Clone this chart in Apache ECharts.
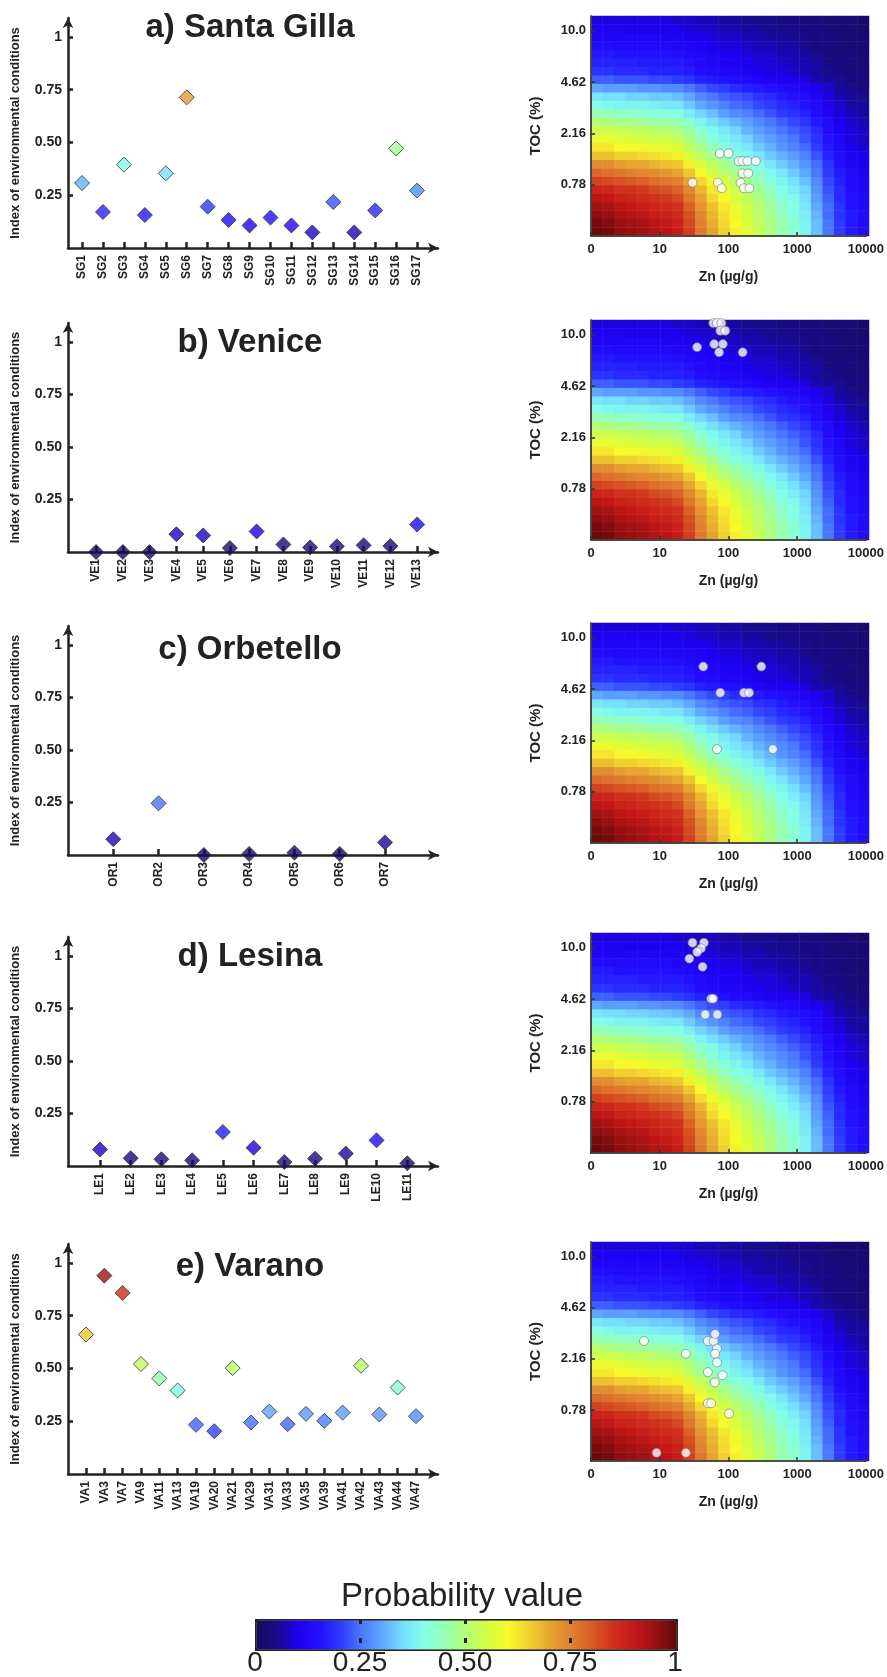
<!DOCTYPE html>
<html><head><meta charset="utf-8">
<script src="https://cdn.jsdelivr.net/npm/echarts@6/dist/echarts.min.js"></script>
<style>html,body{margin:0;padding:0;background:#fff}#c{width:887px;height:1677px}</style>
</head><body><div id="c"></div>
<script>
// ---------- data ----------
const SG_LABELS = ['SG1','SG2','SG3','SG4','SG5','SG6','SG7','SG8','SG9','SG10','SG11','SG12','SG13','SG14','SG15','SG16','SG17'];
const SG_VALUES = [0.308,0.171,0.395,0.156,0.354,0.714,0.196,0.133,0.107,0.144,0.107,0.074,0.218,0.074,0.178,0.472,0.272];
const VE_LABELS = ['VE1','VE2','VE3','VE4','VE5','VE6','VE7','VE8','VE9','VE10','VE11','VE12','VE13'];
const VE_VALUES = [0.0,0.0,0.0,0.085,0.079,0.019,0.098,0.036,0.022,0.027,0.032,0.028,0.131];
const OR_LABELS = ['OR1','OR2','OR3','OR4','OR5','OR6','OR7'];
const OR_VALUES = [0.075,0.246,0.0,0.005,0.011,0.005,0.060];
const LE_LABELS = ['LE1','LE2','LE3','LE4','LE5','LE6','LE7','LE8','LE9','LE10','LE11'];
const LE_VALUES = [0.078,0.037,0.032,0.027,0.162,0.087,0.019,0.035,0.059,0.122,0.013];
const VA_LABELS = ['VA1','VA3','VA7','VA9','VA11','VA13','VA19','VA20','VA21','VA29','VA31','VA33','VA35','VA39','VA41','VA42','VA43','VA44','VA47'];
const VA_VALUES = [0.661,0.940,0.858,0.521,0.453,0.396,0.233,0.203,0.502,0.244,0.296,0.236,0.285,0.252,0.291,0.513,0.282,0.410,0.274];

// sample points: [Zn (ug/g), TOC axis position]
const SG_DOTS = [[75,1.61],[100,1.61],[141,1.46],[160,1.46],[189,1.46],[250,1.46],[160,1.22],[194,1.22],[30,1.04],[70,1.04],[80,0.93],[150,1.04],[168,0.93],[202,0.93]];
const VE_DOTS = [[60,4.23],[68,4.23],[79,4.23],[76,4.08],[90,4.08],[35,3.76],[62,3.82],[83,3.82],[73,3.66],[161,3.66]];
const OR_DOTS = [[43,3.44],[301,3.44],[76,2.93],[168,2.93],[200,2.93],[68,1.83],[443,1.83]];
const LE_DOTS = [[30,4.10],[44,4.10],[40,3.99],[35,3.92],[27,3.79],[42,3.63],[56,3.01],[60,3.01],[46,2.70],[69,2.70]];
const VA_DOTS = [[5.9,2.35],[24,2.10],[50,2.35],[61,2.35],[64,2.49],[68,2.20],[64,2.10],[68,1.93],[50,1.74],[82,1.68],[63,1.54],[50,1.13],[56,1.13],[102,0.93],[9,0.16],[24,0.16]];

const TITLES = ['a) Santa Gilla','b) Venice','c) Orbetello','d) Lesina','e) Varano'];
const Y_TICKS = [0.25,0.5,0.75,1];
const ZN_TICKS = [1,10,100,1000,10000];
const TOC_TICK_LABELS = ['0.78','2.16','4.62','10.0'];
const CBAR_TICKS = [0,0.25,0.5,0.75,1];

// probability surface read from the contour map:
// 26 rows (bottom = low TOC -> top), 24 columns (low Zn -> high Zn)
const HEAT = [
 [0.99,0.98,0.96,0.95,0.94,0.92,0.91,0.89,0.83,0.76,0.70,0.65,0.61,0.57,0.53,0.49,0.45,0.42,0.38,0.32,0.25,0.20,0.16,0.14],
 [0.98,0.97,0.95,0.94,0.93,0.91,0.90,0.88,0.82,0.75,0.69,0.64,0.60,0.56,0.52,0.49,0.45,0.42,0.38,0.32,0.25,0.20,0.16,0.14],
 [0.96,0.95,0.93,0.92,0.91,0.89,0.88,0.86,0.81,0.74,0.68,0.63,0.59,0.55,0.51,0.48,0.44,0.41,0.37,0.31,0.24,0.19,0.16,0.14],
 [0.94,0.93,0.91,0.90,0.89,0.87,0.86,0.85,0.79,0.72,0.67,0.62,0.58,0.54,0.50,0.47,0.43,0.40,0.36,0.30,0.24,0.19,0.15,0.13],
 [0.91,0.90,0.88,0.87,0.86,0.85,0.84,0.82,0.76,0.70,0.64,0.60,0.56,0.52,0.49,0.45,0.41,0.39,0.35,0.29,0.23,0.18,0.15,0.13],
 [0.88,0.87,0.85,0.85,0.84,0.82,0.81,0.79,0.74,0.68,0.62,0.58,0.54,0.51,0.47,0.44,0.40,0.37,0.34,0.28,0.22,0.18,0.14,0.12],
 [0.83,0.82,0.81,0.80,0.79,0.77,0.76,0.75,0.70,0.64,0.59,0.55,0.51,0.48,0.45,0.41,0.38,0.35,0.32,0.27,0.21,0.17,0.13,0.12],
 [0.78,0.77,0.76,0.75,0.74,0.73,0.72,0.70,0.66,0.60,0.55,0.51,0.48,0.45,0.42,0.39,0.36,0.33,0.30,0.25,0.20,0.16,0.13,0.11],
 [0.73,0.73,0.71,0.70,0.70,0.68,0.67,0.66,0.61,0.56,0.52,0.48,0.45,0.42,0.39,0.36,0.33,0.31,0.28,0.24,0.19,0.15,0.12,0.10],
 [0.67,0.67,0.65,0.65,0.64,0.63,0.62,0.61,0.56,0.52,0.48,0.44,0.41,0.39,0.36,0.33,0.31,0.29,0.26,0.22,0.17,0.14,0.11,0.10],
 [0.62,0.62,0.60,0.60,0.59,0.58,0.57,0.56,0.52,0.48,0.44,0.41,0.38,0.36,0.33,0.31,0.28,0.26,0.24,0.20,0.16,0.13,0.10,0.09],
 [0.58,0.58,0.57,0.56,0.55,0.54,0.54,0.53,0.49,0.45,0.41,0.38,0.36,0.34,0.31,0.29,0.27,0.25,0.22,0.19,0.15,0.12,0.09,0.08],
 [0.54,0.54,0.53,0.52,0.52,0.51,0.50,0.49,0.46,0.42,0.39,0.36,0.34,0.31,0.29,0.27,0.25,0.23,0.21,0.18,0.14,0.11,0.09,0.08],
 [0.50,0.49,0.48,0.48,0.47,0.46,0.46,0.45,0.42,0.38,0.35,0.33,0.31,0.29,0.27,0.25,0.23,0.21,0.19,0.16,0.13,0.10,0.08,0.07],
 [0.45,0.44,0.43,0.43,0.42,0.41,0.41,0.40,0.37,0.34,0.32,0.29,0.27,0.26,0.24,0.22,0.20,0.19,0.17,0.14,0.11,0.09,0.07,0.06],
 [0.40,0.39,0.38,0.38,0.38,0.37,0.36,0.36,0.33,0.30,0.28,0.26,0.24,0.23,0.21,0.20,0.18,0.17,0.15,0.13,0.10,0.08,0.06,0.06],
 [0.36,0.35,0.35,0.34,0.34,0.33,0.33,0.32,0.30,0.27,0.25,0.23,0.22,0.21,0.19,0.18,0.16,0.15,0.14,0.12,0.09,0.07,0.06,0.05],
 [0.30,0.29,0.29,0.29,0.28,0.28,0.27,0.27,0.25,0.23,0.21,0.20,0.18,0.17,0.16,0.15,0.14,0.13,0.11,0.10,0.08,0.06,0.05,0.04],
 [0.23,0.23,0.22,0.22,0.22,0.21,0.21,0.20,0.19,0.17,0.16,0.15,0.14,0.13,0.12,0.11,0.10,0.10,0.09,0.07,0.06,0.05,0.04,0.03],
 [0.19,0.19,0.18,0.18,0.18,0.17,0.17,0.17,0.16,0.14,0.13,0.12,0.12,0.11,0.10,0.09,0.09,0.08,0.07,0.06,0.05,0.04,0.03,0.03],
 [0.17,0.17,0.17,0.17,0.16,0.16,0.16,0.16,0.15,0.13,0.12,0.11,0.11,0.10,0.09,0.09,0.08,0.07,0.07,0.06,0.04,0.04,0.03,0.02],
 [0.16,0.16,0.15,0.15,0.15,0.15,0.15,0.14,0.13,0.12,0.11,0.10,0.10,0.09,0.08,0.08,0.07,0.07,0.06,0.05,0.04,0.03,0.03,0.02],
 [0.14,0.14,0.13,0.13,0.13,0.13,0.13,0.12,0.12,0.11,0.10,0.09,0.09,0.08,0.07,0.07,0.06,0.06,0.05,0.04,0.04,0.03,0.02,0.02],
 [0.12,0.12,0.12,0.12,0.12,0.12,0.11,0.11,0.10,0.10,0.09,0.08,0.08,0.07,0.07,0.06,0.06,0.05,0.05,0.04,0.03,0.03,0.02,0.02],
 [0.11,0.11,0.11,0.10,0.10,0.10,0.10,0.10,0.09,0.08,0.08,0.07,0.07,0.06,0.06,0.05,0.05,0.05,0.04,0.04,0.03,0.02,0.02,0.02],
 [0.09,0.09,0.09,0.09,0.09,0.09,0.09,0.08,0.08,0.07,0.07,0.06,0.06,0.05,0.05,0.05,0.04,0.04,0.04,0.03,0.02,0.02,0.02,0.01]
];

const COLORS = ['#160a60','#1a0a8c','#1e00f0','#2210ff','#2d3cff','#4a78ff','#5ea8ff','#78e0ff','#84ffe6','#96ffb0','#b4ff74','#d4ff40','#f8f82a','#f0d030','#e6a430','#e08030','#d85a24','#d0301c','#c41818','#981010','#600808'];

// ---------- layout ----------
const FONT = 'Liberation Sans, Arial, Helvetica, sans-serif';
const INK = '#222';
const LAYOUT = [
  {titleY:28,  sTop:18,   sBottom:248,  xMin:0.33,  xMax:18.0,  hTop:16,   hBottom:236},
  {titleY:343, sTop:323,  sBottom:552,  xMin:-0.05, xMax:13.78, hTop:320,  hBottom:540},
  {titleY:650, sTop:626,  sBottom:855,  xMin:0.0,   xMax:8.17,  hTop:623,  hBottom:843},
  {titleY:957, sTop:937,  sBottom:1166, xMin:-0.04, xMax:12.0,  hTop:933,  hBottom:1153},
  {titleY:1267,sTop:1244, sBottom:1474, xMin:0.02,  xMax:20.2,  hTop:1242, hBottom:1461}
];
const PANELS = [
  [SG_LABELS,SG_VALUES,SG_DOTS],[VE_LABELS,VE_VALUES,VE_DOTS],[OR_LABELS,OR_VALUES,OR_DOTS],
  [LE_LABELS,LE_VALUES,LE_DOTS],[VA_LABELS,VA_VALUES,VA_DOTS]
];

const heatData = [];
HEAT.forEach((row,j)=>row.forEach((v,i)=>heatData.push([i,j,v])));
const heatXCats = HEAT[0].map((_,i)=>i);
const heatYCats = HEAT.map((_,j)=>j);

const grid=[], xAxis=[], yAxis=[], series=[], title=[];
const diamondIdx=[], heatIdx=[];

LAYOUT.forEach((L,r)=>{
  const [labels] = PANELS[r];
  grid[r] = {left:68, width:370, top:L.sTop, height:L.sBottom-L.sTop};
  const idxs = labels.map((_,i)=>i+1);
  xAxis[r] = {type:'value', gridIndex:r, min:L.xMin, max:L.xMax, z:5,
    axisLine:{show:true, onZero:false, symbol:['none','arrow'], symbolSize:[8,10], lineStyle:{color:INK, width:2.5}},
    axisTick:{show:true, inside:true, length:6, customValues:idxs, lineStyle:{color:INK, width:2.5}},
    axisLabel:{customValues:idxs, rotate:90, margin:7, fontSize:12, fontWeight:'bold', color:INK, fontFamily:FONT,
      formatter:v=>labels[Math.round(v)-1]||''},
    splitLine:{show:false}};
  yAxis[r] = {type:'value', gridIndex:r, min:0, max:1.09, z:5,
    name:'Index of environmental conditions', nameLocation:'middle', nameGap:46,
    nameTextStyle:{fontSize:13, fontWeight:'bold', color:INK, fontFamily:FONT},
    axisLine:{show:true, onZero:false, symbol:['none','arrow'], symbolSize:[8,10], lineStyle:{color:INK, width:2.5}},
    axisTick:{show:true, inside:true, length:5, customValues:Y_TICKS, lineStyle:{color:INK, width:2.5}},
    axisLabel:{customValues:Y_TICKS, margin:6, fontSize:14, fontWeight:'bold', color:INK, fontFamily:FONT,
      formatter:v=>v===1?'1':v.toFixed(2)},
    splitLine:{show:false}};
  title.push({text:TITLES[r], left:250, top:L.titleY-17, textAlign:'center', padding:0,
    textStyle:{fontSize:33, fontWeight:'bold', color:INK, fontFamily:FONT}});
});

LAYOUT.forEach((L,r)=>{
  const hg = 5+r, dg = 10+r;
  grid[hg] = {left:591, width:278, top:L.hTop, height:L.hBottom-L.hTop};
  grid[dg] = {left:591, width:278, top:L.hTop, height:L.hBottom-L.hTop};
  xAxis[hg] = {type:'category', gridIndex:hg, data:heatXCats, show:false};
  yAxis[hg] = {type:'category', gridIndex:hg, data:heatYCats, show:false};
  xAxis[dg] = {type:'log', logBase:10, gridIndex:dg, min:1, max:10000, z:6,
    name:'Zn (µg/g)', nameLocation:'middle', nameGap:34,
    nameTextStyle:{fontSize:14, fontWeight:'bold', color:INK, fontFamily:FONT},
    axisLine:{show:true, onZero:false, lineStyle:{color:'#444', width:1.5}},
    axisTick:{show:true, inside:true, length:4, customValues:ZN_TICKS, lineStyle:{color:'#333', width:1.5}},
    axisLabel:{customValues:ZN_TICKS, margin:7, fontSize:13, fontWeight:'bold', color:INK, fontFamily:FONT,
      formatter:v=>v===1?'0':String(Math.round(v))},
    splitLine:{show:false}};
  yAxis[dg] = {type:'value', gridIndex:dg, min:0, max:4.29, z:6,
    name:'TOC (%)', nameLocation:'middle', nameGap:48,
    nameTextStyle:{fontSize:15, fontWeight:'bold', color:INK, fontFamily:FONT},
    axisLine:{show:true, onZero:false, lineStyle:{color:'#444', width:1.5}},
    axisTick:{show:true, inside:true, length:4, customValues:[1,2,3,4], lineStyle:{color:'#333', width:1.5}},
    axisLabel:{customValues:[1,2,3,4], margin:5, fontSize:13, fontWeight:'bold', color:INK, fontFamily:FONT,
      formatter:v=>TOC_TICK_LABELS[Math.round(v)-1]||''},
    splitLine:{show:false}};
});
LAYOUT.forEach((L,r)=>{
  const dg = 10+r;
  xAxis.push({type:'value', gridIndex:dg, position:'top', min:0, max:1, z:6,
    axisLine:{show:true, lineStyle:{color:'#444', width:1.5}}, axisTick:{show:false}, axisLabel:{show:false}, splitLine:{show:false}});
  yAxis.push({type:'value', gridIndex:dg, position:'right', min:0, max:1, z:6,
    axisLine:{show:true, lineStyle:{color:'#444', width:1.5}}, axisTick:{show:false}, axisLabel:{show:false}, splitLine:{show:false}});
});

grid[15] = {left:255, width:420, top:1619, height:29};
xAxis.push({type:'value', gridIndex:15, min:0, max:1, position:'bottom', z:20,
  axisLine:{show:false}, splitLine:{show:false},
  axisTick:{show:true, inside:true, length:5, customValues:[0.25,0.5,0.75], lineStyle:{color:INK, width:3}},
  axisLabel:{customValues:CBAR_TICKS, margin:6, fontSize:28, color:INK, fontFamily:FONT,
    formatter:v=>(v===0?'0':v===1?'1':v.toFixed(2))}});
xAxis.push({type:'value', gridIndex:15, min:0, max:1, position:'top', z:20,
  axisLine:{show:false}, splitLine:{show:false}, axisLabel:{show:false},
  axisTick:{show:true, inside:true, length:5, customValues:[0.25,0.5,0.75], lineStyle:{color:INK, width:3}}});
yAxis.push({type:'value', gridIndex:15, min:0, max:1, show:false});

LAYOUT.forEach((L,r)=>{
  const [labels, values, dots] = PANELS[r];
  diamondIdx.push(series.length);
  series.push({type:'scatter', xAxisIndex:r, yAxisIndex:r, symbol:'diamond', symbolSize:15, clip:false,
    itemStyle:{borderColor:'#333', borderWidth:1}, z:10,
    data:values.map((v,i)=>[i+1,v])});
  heatIdx.push(series.length);
  series.push({type:'heatmap', xAxisIndex:5+r, yAxisIndex:5+r, data:heatData, progressive:0,
    emphasis:{disabled:true}});
  series.push({type:'scatter', xAxisIndex:10+r, yAxisIndex:10+r, symbol:'circle', symbolSize:9, z:12,
    itemStyle:{color:'#fff', borderColor:'#777', borderWidth:0.8}, data:dots});
});

title.push({text:'Probability value', left:462, top:1580, textAlign:'center', padding:0,
  textStyle:{fontSize:33, fontWeight:'normal', color:INK, fontFamily:FONT}});

const option = {
  animation:false,
  backgroundColor:'#fff',
  title, grid, xAxis, yAxis, series,
  visualMap:[
    {type:'continuous', min:0, max:1, dimension:2, seriesIndex:heatIdx, inRange:{color:COLORS},
     orient:'horizontal', left:255, top:1619, itemWidth:29, itemHeight:420, calculable:false,
     padding:0, borderColor:INK, borderWidth:3, hoverLink:false, text:null},
    {type:'continuous', show:false, min:0, max:1, dimension:1, seriesIndex:diamondIdx, inRange:{color:COLORS}}
  ]
};
const chart = echarts.init(document.getElementById('c'), null, {renderer:'canvas'});
chart.setOption(option);
</script>
</body></html>
